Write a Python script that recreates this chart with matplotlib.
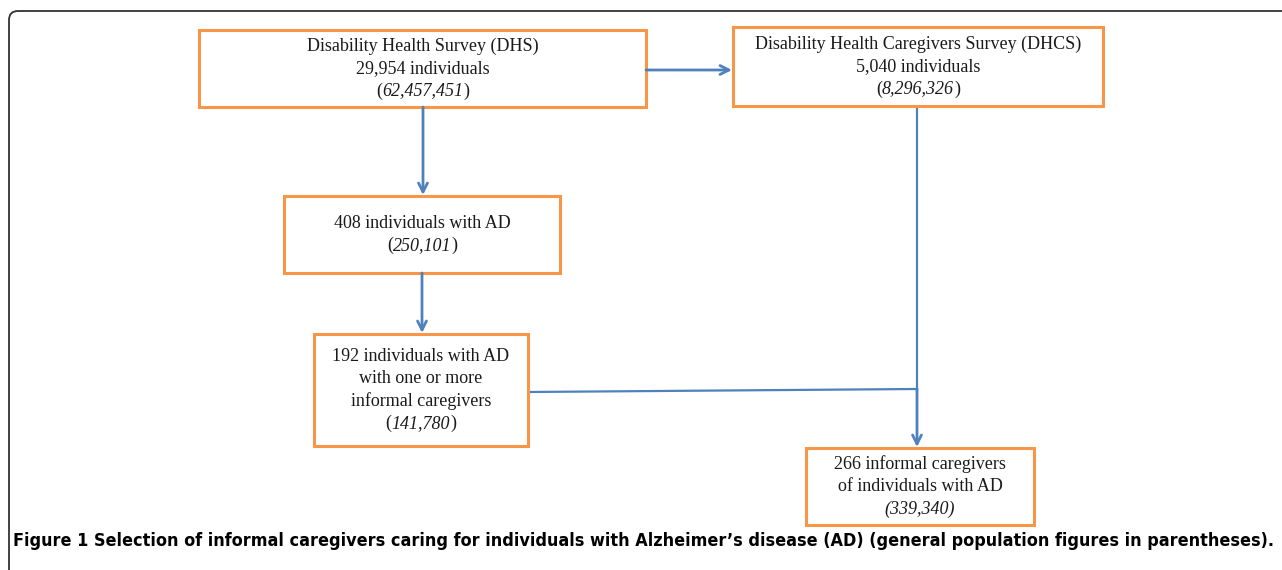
import matplotlib.pyplot as plt
from matplotlib.patches import FancyBboxPatch, Rectangle

# flowchart content
titles = [
    ["Disability Health Survey (DHS)", "29,954 individuals"],
    ["Disability Health Caregivers Survey (DHCS)", "5,040 individuals"],
    ["408 individuals with AD"],
    ["192 individuals with AD", "with one or more", "informal caregivers"],
    ["266 informal caregivers", "of individuals with AD"],
]
population = ["62,457,451", "8,296,326", "250,101", "141,780", "339,340"]
paren_italic = [False, False, False, False, True]
caption = ("Figure 1 Selection of informal caregivers caring for individuals with "
           "Alzheimer\u2019s disease (AD) (general population figures in parentheses).")

# box layout in pixels: x0, y0, x1, y1
boxes = [
    (199, 30, 646, 107),
    (733, 27, 1103, 106),
    (284, 196, 560, 273),
    (314, 334, 528, 446),
    (806, 448, 1034, 525),
]

W, H = 1282, 570
fig = plt.figure(figsize=(W / 100, H / 100), dpi=100)
ax = fig.add_axes([0, 0, 1, 1])
ax.set_xlim(0, W)
ax.set_ylim(H, 0)
ax.axis("off")
fig.canvas.draw()
renderer = fig.canvas.get_renderer()

# outer frame
ax.add_patch(FancyBboxPatch((9, 11), 1400, 700, boxstyle="round,pad=0,rounding_size=9",
                            fc="none", ec="#333333", lw=1.3))

orange = "#F79646"
blue = "#4F81BD"
ink = "#1a1a1a"
fs = 13
lh = 22.5
serif = "Liberation Serif"


def width_of(s, style):
    t = ax.text(0, 0, s, family=serif, fontsize=fs, style=style)
    w = t.get_window_extent(renderer).width
    t.remove()
    return w


def mixed_line(cx, y, pieces):
    # pieces: list of (text, style); centred as one line
    widths = [width_of(s, st) for s, st in pieces]
    x = cx - sum(widths) / 2
    for (s, st), w in zip(pieces, widths):
        ax.text(x, y, s, ha="left", va="center", family=serif, fontsize=fs,
                style=st, color=ink, zorder=3)
        x += w


for (x0, y0, x1, y1), lines, pop, it in zip(boxes, titles, population, paren_italic):
    ax.add_patch(Rectangle((x0, y0), x1 - x0, y1 - y0, fc="white", ec=orange, lw=2.2, zorder=2))
    n = len(lines) + 1
    cx = (x0 + x1) / 2
    cy = (y0 + y1) / 2
    ys = [cy + (i - (n - 1) / 2) * lh for i in range(n)]
    for yy, s in zip(ys, lines):
        ax.text(cx, yy, s, ha="center", va="center", family=serif,
                fontsize=fs, color=ink, zorder=3)
    if it:
        mixed_line(cx, ys[-1], [("(" + pop + ")", "italic")])
    else:
        mixed_line(cx, ys[-1], [("(", "normal"), (pop, "italic"), (")", "normal")])


def arrow(x0, y0, x1, y1):
    ax.annotate("", xy=(x1, y1), xytext=(x0, y0),
                arrowprops=dict(arrowstyle="->", color=blue, lw=2, mutation_scale=16,
                                shrinkA=0, shrinkB=0), zorder=4)


arrow(423, 107, 423, 195)
arrow(646, 70, 732, 70)
arrow(422, 273, 422, 333)
ax.plot([917, 917], [106, 391], color=blue, lw=1.6, zorder=1)
ax.plot([528, 917], [392, 389], color=blue, lw=1.6, zorder=1)
arrow(917, 389, 917, 447)

# caption, sized to span the frame width
cap = ax.text(13, 541, caption, ha="left", va="center", family="DejaVu Sans",
              fontstretch="condensed", fontweight="bold", fontsize=15.5, color="black")
w = cap.get_window_extent(renderer).width
cap.set_fontsize(15.5 * 1258 / w)

fig.savefig("out.png", dpi=100)
